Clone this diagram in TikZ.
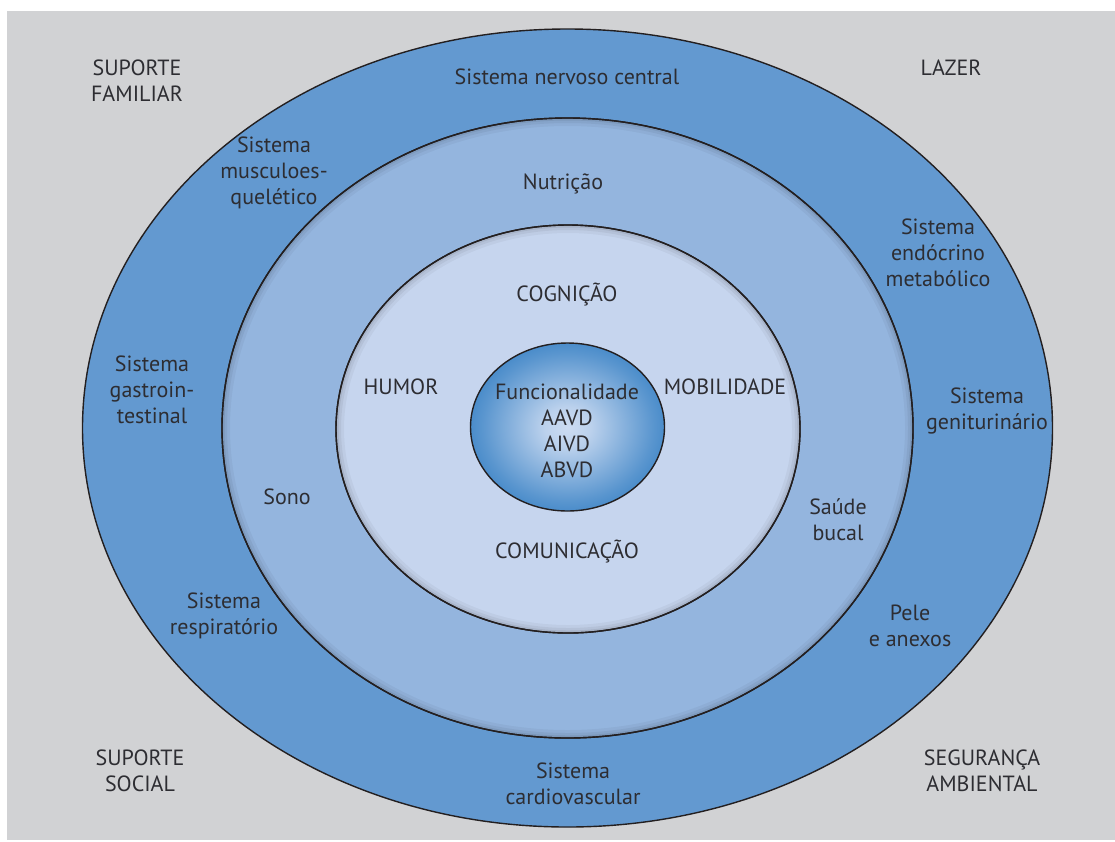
\documentclass[tikz,border=0pt]{standalone}
\usepackage{fontspec}
\setmainfont{PT Sans}
\usetikzlibrary{shapes.geometric}
\definecolor{bggray}{RGB}{209,210,212}
\definecolor{ringA}{RGB}{99,153,208}
\definecolor{ringB}{RGB}{148,181,222}
\definecolor{ringC}{RGB}{198,213,238}
\definecolor{coreDark}{RGB}{28,112,188}
\definecolor{coreLight}{RGB}{205,220,242}
\definecolor{txt}{RGB}{45,45,50}
\definecolor{edge}{RGB}{35,31,32}
\pgfdeclareradialshading{coreshade}{\pgfpoint{0bp}{0bp}}{color(0bp)=(coreLight); color(6bp)=(coreLight!90!coreDark); color(22bp)=(coreLight!35!coreDark); color(34bp)=(coreDark); color(50bp)=(coreDark)}
\tikzset{
  ring/.style={ellipse, draw=edge, line width=1.4pt, inner sep=0pt},
  lbl/.style={align=center, text=txt, font=\fontsize{22}{26}\selectfont, inner sep=0pt},
}
\begin{document}
\begin{tikzpicture}[x=1pt,y=-1pt]
\useasboundingbox (0,0) rectangle (1115,841);
\fill[bggray] (7,11) rectangle (1115,840);
% outer ring
\node[ring, fill=ringA, minimum width=970pt, minimum height=798pt] (outer) at (567.5,428) {};
% middle ring
\node[ring, fill=ringB, minimum width=691pt, minimum height=620pt] (middle) at (567.5,428) {};
\begin{scope}
  \clip (567.5,428) ellipse [x radius=345.5pt, y radius=310pt];
  \foreach \w/\o in {16/0.04,10/0.05,5/0.07}{
    \draw[black, opacity=\o, line width=\w pt] (567.5,428) ellipse [x radius=345.5pt, y radius=310pt];
  }
\end{scope}
\draw[edge, line width=1.4pt] (567.5,428) ellipse [x radius=345.5pt, y radius=310pt];
% inner ring
\node[ring, fill=ringC, minimum width=464pt, minimum height=408pt] (inner) at (568,429) {};
\begin{scope}
  \clip (568,429) ellipse [x radius=232pt, y radius=204pt];
  \foreach \w/\o in {16/0.04,10/0.05,5/0.07}{
    \draw[black, opacity=\o, line width=\w pt] (568,429) ellipse [x radius=232pt, y radius=204pt];
  }
\end{scope}
\draw[edge, line width=1.4pt] (568,429) ellipse [x radius=232pt, y radius=204pt];
% core
\node[ring, shading=coreshade, minimum width=194pt, minimum height=168pt] (core) at (567.5,427) {};
% labels
\node[lbl] (l1) at (137,81) {SUPORTE\\FAMILIAR};
\node[lbl] (l2) at (951,68) {LAZER};
\node[lbl] (l3) at (140,771) {SUPORTE\\SOCIAL};
\node[lbl] (l4) at (982,771) {SEGURANÇA\\AMBIENTAL};
\node[lbl] (a1) at (567,77) {Sistema nervoso central};
\node[lbl] (a2) at (274,173) {Sistema\\musculoes-\\quelético};
\node[lbl] (a3) at (938,253) {Sistema\\endócrino\\metabólico};
\node[lbl] (a4) at (152,390) {Sistema\\gastroin-\\testinal};
\node[lbl] (a5) at (987,411) {Sistema\\geniturinário};
\node[lbl] (a6) at (224,616) {Sistema\\respiratório};
\node[lbl] (a7) at (910,626) {Pele\\e anexos};
\node[lbl] (a8) at (573,784) {Sistema\\cardiovascular};
\node[lbl] (b1) at (563,184) {Nutrição};
\node[lbl] (b2) at (287,497) {Sono};
\node[lbl] (b3) at (838,520) {Saúde\\bucal};
\node[lbl] (c1) at (567,295) {COGNIÇÃO};
\node[lbl] (c2) at (401,387) {HUMOR};
\node[lbl] (c3) at (725,387) {MOBILIDADE};
\node[lbl] (c4) at (567,552) {COMUNICAÇÃO};
\node[lbl] (d1) at (567,431) {Funcionalidade\\AAVD\\AIVD\\ABVD};
\end{tikzpicture}
\end{document}
